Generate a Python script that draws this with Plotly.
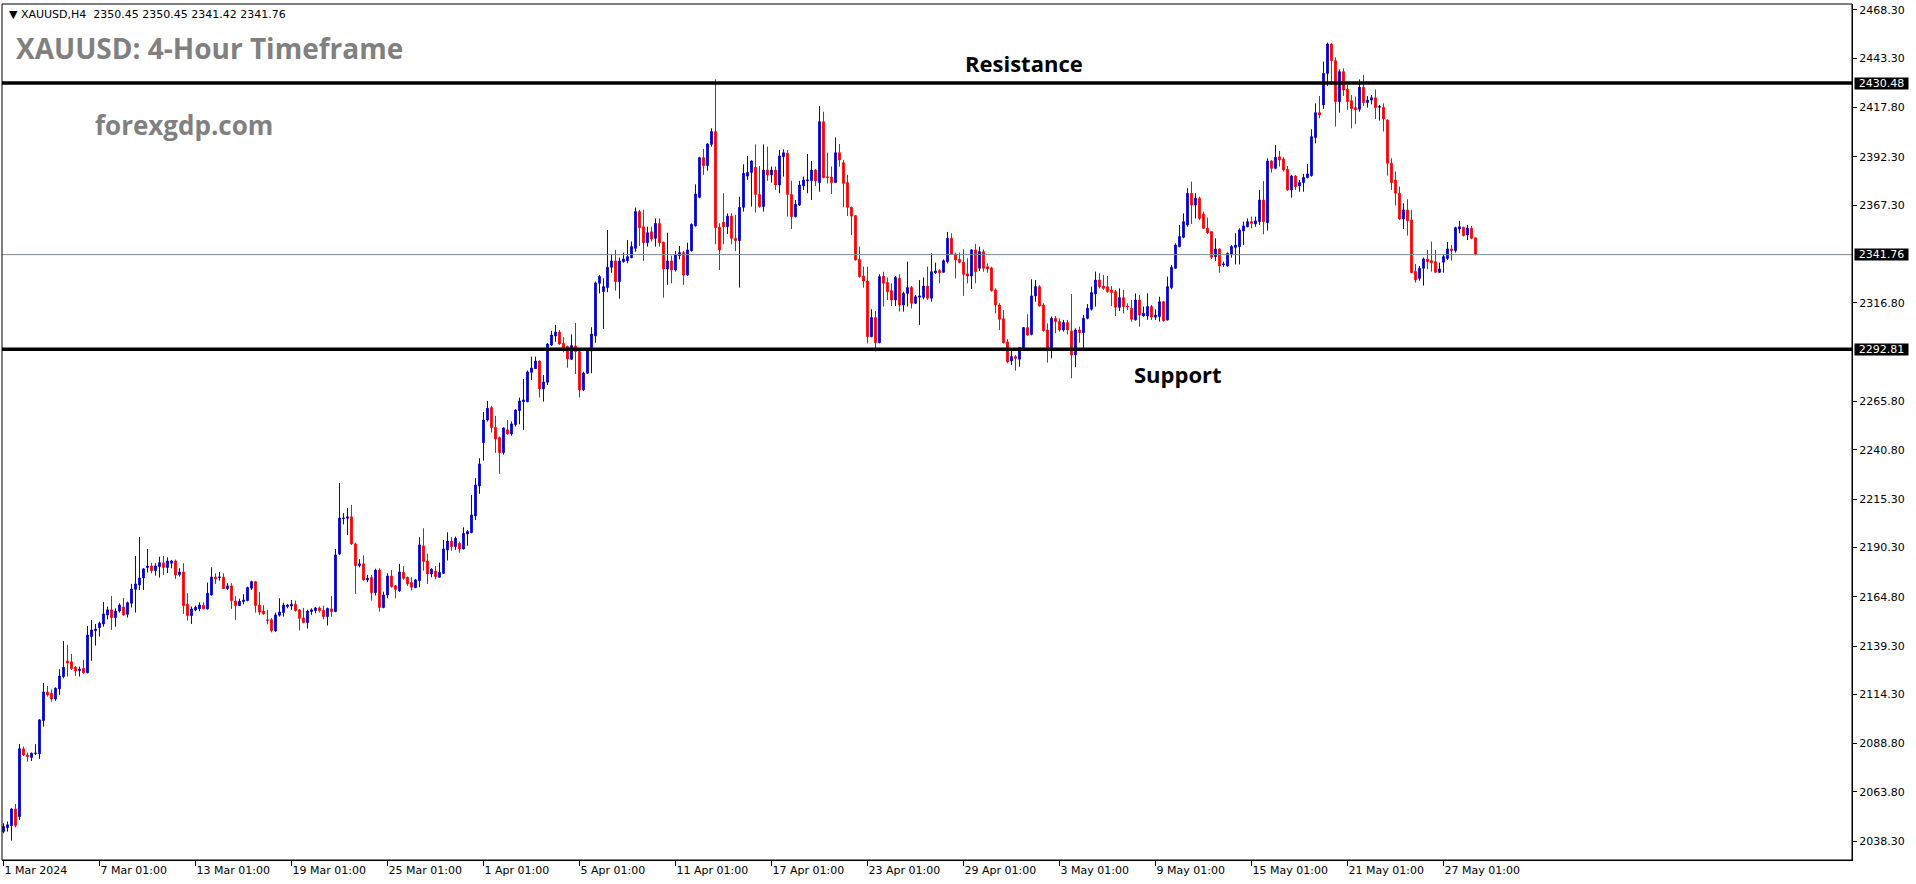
import plotly.graph_objects as go

# ---------------- data (XAUUSD H4) ----------------
opens = [
2043.3, 2045.4, 2046.4, 2055.0, 2051.1, 2086.1, 2082.9, 2081.6, 2083.6, 2083.5,
2100.7, 2115.5, 2114.9, 2111.9, 2117.1, 2123.5, 2131.6, 2131.1, 2128.3, 2126.6,
2127.8, 2125.5, 2144.2, 2147.3, 2148.8, 2150.7, 2155.4, 2158.0, 2154.0, 2157.4,
2159.5, 2155.7, 2161.4, 2168.6, 2170.9, 2174.5, 2179.9, 2180.7, 2178.3, 2180.4,
2182.3, 2179.9, 2182.1, 2183.3, 2176.2, 2177.6, 2160.9, 2155.0, 2157.9, 2158.6,
2160.4, 2158.5, 2165.7, 2175.0, 2174.7, 2174.9, 2169.0, 2170.4, 2162.6, 2160.2,
2162.3, 2162.8, 2169.2, 2172.6, 2160.5, 2157.4, 2152.9, 2152.9, 2147.1, 2155.2,
2156.6, 2159.7, 2160.0, 2160.9, 2158.0, 2153.8, 2151.4, 2157.1, 2157.6, 2159.0,
2157.8, 2154.5, 2158.5, 2157.1, 2186.9, 2205.2, 2205.4, 2206.1, 2192.1, 2180.9,
2181.8, 2173.5, 2174.7, 2166.9, 2178.6, 2159.2, 2165.7, 2175.5, 2170.5, 2167.8,
2177.4, 2174.8, 2172.1, 2169.5, 2173.1, 2191.1, 2183.3, 2176.6, 2178.1, 2174.9,
2176.9, 2189.0, 2193.6, 2190.7, 2192.4, 2189.5, 2197.3, 2198.0, 2206.6, 2222.1,
2244.5, 2256.2, 2262.6, 2252.3, 2247.1, 2239.3, 2251.1, 2249.0, 2253.8, 2261.1,
2265.7, 2265.7, 2280.9, 2282.8, 2286.7, 2272.3, 2275.7, 2295.0, 2299.7, 2301.7,
2295.9, 2294.2, 2287.6, 2294.5, 2291.6, 2271.8, 2280.4, 2291.9, 2299.7, 2326.9,
2322.6, 2324.7, 2335.2, 2338.5, 2327.8, 2338.1, 2338.6, 2340.2, 2345.0, 2364.0,
2356.2, 2347.9, 2353.6, 2350.2, 2357.9, 2348.1, 2334.3, 2338.5, 2333.8, 2341.2,
2342.8, 2331.2, 2343.8, 2356.7, 2371.4, 2391.9, 2387.8, 2398.8, 2405.4, 2355.9,
2358.5, 2356.2, 2361.7, 2350.2, 2349.0, 2366.2, 2382.4, 2384.3, 2386.9, 2372.9,
2366.6, 2385.5, 2383.0, 2385.5, 2377.8, 2392.4, 2394.2, 2372.9, 2361.4, 2367.4,
2377.3, 2380.0, 2380.0, 2385.5, 2379.0, 2410.5, 2382.0, 2381.9, 2379.0, 2394.5,
2389.3, 2379.0, 2366.2, 2361.9, 2339.3, 2330.7, 2328.1, 2299.3, 2309.2, 2296.2,
2330.7, 2327.3, 2323.1, 2318.3, 2329.5, 2315.7, 2321.7, 2324.8, 2316.6, 2319.7,
2319.7, 2325.5, 2319.2, 2332.4, 2333.5, 2332.6, 2338.1, 2350.2, 2342.1, 2339.3,
2337.8, 2331.8, 2330.7, 2344.2, 2334.7, 2343.3, 2335.5, 2334.9, 2323.5, 2315.7,
2308.6, 2296.6, 2286.7, 2289.0, 2287.6, 2292.4, 2304.0, 2300.5, 2320.4, 2325.2,
2315.7, 2302.8, 2292.4, 2308.8, 2307.1, 2302.8, 2306.6, 2302.3, 2289.9, 2302.8,
2301.4, 2308.8, 2313.5, 2321.4, 2328.6, 2325.5, 2325.2, 2323.5, 2322.6, 2314.5,
2319.5, 2315.2, 2314.0, 2308.0, 2318.3, 2310.0, 2310.0, 2314.9, 2309.4, 2309.7,
2317.4, 2308.0, 2324.7, 2334.7, 2345.9, 2350.7, 2357.1, 2373.5, 2367.4, 2370.9,
2362.8, 2355.4, 2353.6, 2340.7, 2344.7, 2336.5, 2335.9, 2342.1, 2345.5, 2345.9,
2354.0, 2356.2, 2358.8, 2357.6, 2358.8, 2370.0, 2358.3, 2390.2, 2386.4, 2392.4,
2391.2, 2385.9, 2375.2, 2382.4, 2377.3, 2379.0, 2381.6, 2382.6, 2402.3, 2415.2,
2419.2, 2435.5, 2450.7, 2442.1, 2420.9, 2436.4, 2427.3, 2421.4, 2417.8, 2416.9,
2428.3, 2420.4, 2421.7, 2422.9, 2418.0, 2418.0, 2411.4, 2389.0, 2380.4, 2373.5,
2360.2, 2364.9, 2359.7, 2333.0, 2329.5, 2334.7, 2339.5, 2338.6, 2338.1, 2332.6,
2337.8, 2339.8, 2344.7, 2343.8, 2355.0, 2355.9, 2351.9, 2355.4, 2350.45,
]

highs = [
2047.6, 2048.5, 2055.4, 2057.6, 2088.6, 2087.3, 2084.2, 2084.2, 2088.5, 2101.4,
2120.2, 2118.6, 2116.9, 2117.9, 2127.3, 2141.9, 2139.9, 2135.2, 2129.0, 2128.6,
2132.1, 2149.7, 2152.8, 2150.7, 2151.9, 2162.1, 2159.7, 2165.2, 2158.8, 2161.4,
2164.2, 2162.3, 2171.4, 2185.9, 2195.7, 2179.5, 2189.5, 2182.3, 2182.1, 2185.5,
2185.9, 2185.2, 2183.8, 2184.0, 2179.5, 2182.1, 2166.6, 2159.7, 2160.2, 2161.9,
2161.9, 2172.1, 2180.0, 2176.9, 2177.6, 2176.9, 2171.8, 2171.8, 2165.0, 2163.8,
2166.1, 2170.0, 2173.1, 2173.0, 2167.3, 2160.4, 2158.0, 2153.8, 2156.6, 2164.0,
2161.7, 2161.1, 2163.1, 2162.8, 2158.3, 2159.0, 2158.1, 2158.8, 2159.5, 2159.8,
2160.2, 2159.2, 2165.2, 2189.5, 2223.6, 2208.0, 2210.7, 2212.3, 2192.8, 2184.2,
2186.2, 2176.1, 2176.1, 2179.3, 2179.5, 2167.4, 2176.9, 2178.6, 2170.7, 2181.8,
2180.7, 2175.2, 2174.9, 2174.0, 2195.6, 2200.2, 2187.0, 2179.5, 2180.7, 2182.4,
2194.2, 2198.1, 2195.6, 2195.9, 2193.3, 2200.7, 2199.3, 2217.4, 2226.1, 2236.4,
2260.4, 2266.1, 2263.5, 2258.3, 2247.6, 2252.4, 2256.2, 2255.4, 2261.8, 2267.8,
2277.4, 2281.8, 2289.0, 2289.0, 2287.0, 2279.5, 2295.9, 2302.3, 2305.4, 2302.8,
2299.0, 2294.7, 2300.5, 2306.4, 2291.9, 2281.2, 2292.4, 2304.2, 2327.8, 2331.2,
2329.5, 2354.5, 2342.1, 2344.2, 2340.2, 2342.8, 2349.3, 2348.5, 2366.1, 2364.9,
2364.9, 2356.2, 2356.2, 2360.5, 2360.5, 2348.5, 2353.1, 2341.2, 2343.6, 2346.2,
2343.6, 2347.9, 2357.9, 2378.1, 2392.4, 2396.4, 2399.3, 2407.1, 2432.4, 2358.0,
2373.5, 2363.1, 2363.1, 2362.3, 2371.7, 2388.5, 2392.8, 2390.5, 2398.8, 2387.6,
2398.8, 2397.6, 2387.3, 2387.3, 2395.9, 2396.2, 2395.9, 2379.9, 2370.0, 2379.9,
2382.1, 2393.8, 2390.2, 2386.0, 2418.6, 2415.7, 2394.5, 2387.3, 2402.4, 2399.0,
2390.7, 2383.0, 2366.6, 2362.2, 2345.9, 2335.5, 2335.5, 2313.5, 2312.6, 2331.6,
2332.9, 2329.9, 2326.9, 2330.7, 2331.6, 2322.6, 2338.1, 2325.5, 2320.9, 2328.6,
2329.9, 2335.5, 2342.4, 2337.6, 2334.2, 2339.3, 2353.5, 2352.8, 2342.8, 2342.8,
2344.5, 2339.9, 2344.5, 2347.3, 2345.9, 2344.5, 2337.2, 2335.5, 2324.3, 2316.6,
2313.1, 2298.0, 2292.8, 2289.8, 2293.8, 2304.2, 2310.9, 2329.0, 2328.6, 2326.0,
2316.6, 2306.2, 2309.7, 2310.0, 2308.8, 2308.0, 2308.0, 2321.4, 2303.6, 2304.5,
2310.5, 2316.2, 2325.2, 2333.0, 2332.1, 2331.2, 2330.7, 2325.5, 2323.5, 2324.3,
2323.5, 2316.6, 2318.3, 2321.7, 2320.9, 2314.9, 2321.7, 2315.7, 2313.5, 2320.0,
2317.8, 2330.4, 2336.4, 2347.6, 2357.1, 2363.1, 2376.1, 2379.5, 2373.5, 2371.7,
2364.0, 2360.9, 2353.8, 2350.2, 2345.0, 2338.1, 2342.8, 2346.7, 2352.8, 2355.4,
2358.8, 2360.5, 2361.4, 2361.4, 2375.2, 2379.8, 2391.6, 2390.7, 2398.5, 2395.4,
2392.1, 2387.6, 2383.0, 2383.0, 2380.4, 2383.5, 2388.6, 2406.6, 2420.0, 2423.8,
2441.6, 2451.4, 2451.1, 2443.8, 2437.6, 2438.1, 2429.5, 2424.3, 2423.5, 2432.4,
2434.7, 2423.8, 2424.3, 2427.2, 2419.2, 2420.0, 2411.7, 2391.6, 2384.7, 2376.9,
2368.3, 2370.4, 2364.9, 2336.9, 2335.9, 2340.2, 2344.2, 2348.5, 2344.2, 2337.6,
2342.1, 2348.3, 2346.7, 2356.2, 2359.2, 2356.2, 2357.1, 2356.6, 2350.45,
]

lows = [
2042.4, 2043.3, 2038.6, 2045.5, 2049.3, 2082.4, 2079.5, 2079.8, 2082.9, 2080.9,
2097.6, 2113.1, 2110.5, 2110.9, 2114.0, 2122.6, 2123.5, 2126.9, 2123.8, 2123.5,
2124.9, 2125.2, 2131.6, 2139.5, 2144.2, 2149.3, 2153.1, 2147.6, 2149.3, 2156.6,
2154.9, 2154.0, 2159.2, 2156.6, 2168.3, 2168.3, 2177.3, 2176.9, 2175.7, 2174.7,
2176.1, 2177.1, 2179.5, 2174.0, 2175.2, 2155.9, 2152.4, 2150.7, 2157.3, 2157.3,
2158.3, 2158.1, 2165.5, 2171.4, 2173.1, 2168.8, 2168.3, 2158.5, 2152.8, 2160.0,
2160.9, 2162.4, 2168.3, 2156.6, 2155.4, 2155.5, 2150.5, 2146.4, 2146.6, 2154.5,
2154.5, 2158.8, 2158.0, 2157.1, 2147.3, 2151.1, 2148.3, 2155.4, 2156.2, 2156.6,
2153.1, 2149.9, 2154.5, 2156.8, 2186.4, 2202.2, 2196.7, 2191.6, 2166.2, 2180.0,
2173.0, 2172.3, 2162.8, 2165.4, 2157.1, 2158.8, 2164.0, 2169.5, 2164.0, 2167.3,
2173.5, 2170.4, 2168.0, 2169.2, 2169.7, 2178.3, 2171.4, 2174.9, 2173.8, 2174.7,
2176.6, 2183.5, 2188.6, 2189.0, 2187.6, 2189.3, 2191.2, 2197.6, 2204.5, 2218.0,
2235.2, 2255.4, 2249.7, 2239.2, 2228.3, 2238.3, 2248.5, 2248.1, 2252.8, 2254.0,
2251.1, 2265.4, 2276.9, 2282.6, 2267.8, 2265.7, 2274.3, 2294.5, 2296.7, 2295.0,
2291.2, 2283.3, 2287.3, 2280.0, 2267.8, 2271.2, 2280.0, 2280.4, 2296.2, 2321.7,
2303.3, 2322.3, 2332.4, 2323.1, 2319.0, 2337.6, 2337.3, 2339.9, 2343.3, 2346.2,
2338.5, 2345.9, 2348.5, 2345.9, 2345.9, 2319.5, 2326.1, 2326.9, 2333.0, 2339.3,
2326.1, 2330.7, 2343.3, 2356.2, 2370.9, 2383.0, 2385.2, 2397.6, 2347.1, 2333.8,
2347.1, 2352.4, 2347.1, 2343.6, 2324.7, 2364.0, 2380.4, 2366.6, 2363.5, 2366.0,
2364.0, 2379.9, 2379.0, 2375.2, 2373.5, 2382.1, 2361.4, 2355.0, 2361.0, 2366.9,
2375.2, 2373.5, 2370.0, 2377.3, 2374.3, 2381.2, 2378.6, 2373.1, 2378.8, 2387.3,
2366.2, 2361.7, 2351.9, 2338.7, 2329.9, 2324.7, 2295.9, 2299.0, 2291.6, 2295.9,
2314.9, 2318.3, 2315.2, 2315.2, 2312.3, 2312.3, 2314.9, 2313.9, 2316.2, 2305.4,
2318.6, 2318.3, 2317.4, 2331.8, 2326.9, 2332.4, 2337.2, 2341.7, 2329.5, 2337.2,
2320.4, 2326.9, 2324.0, 2326.9, 2333.3, 2332.9, 2332.4, 2322.6, 2311.4, 2302.8,
2295.9, 2285.6, 2284.7, 2281.7, 2283.8, 2292.2, 2299.7, 2300.0, 2317.4, 2314.9,
2301.9, 2285.9, 2288.1, 2301.1, 2301.9, 2301.9, 2300.5, 2277.8, 2283.5, 2296.2,
2292.4, 2308.3, 2312.8, 2314.9, 2324.3, 2323.5, 2322.1, 2315.2, 2310.0, 2312.6,
2311.4, 2313.1, 2307.1, 2307.6, 2304.5, 2309.7, 2308.0, 2308.0, 2308.0, 2307.1,
2307.1, 2307.6, 2323.8, 2334.5, 2345.5, 2350.2, 2356.2, 2357.6, 2360.5, 2359.7,
2355.0, 2352.4, 2339.5, 2338.5, 2332.4, 2335.5, 2335.5, 2340.2, 2336.7, 2336.7,
2346.7, 2355.9, 2355.4, 2356.2, 2357.1, 2352.3, 2354.2, 2384.2, 2385.9, 2387.3,
2384.7, 2374.8, 2371.2, 2375.2, 2374.3, 2374.3, 2381.2, 2382.1, 2399.3, 2412.3,
2417.1, 2429.0, 2429.5, 2408.0, 2415.2, 2423.8, 2416.6, 2407.1, 2409.2, 2415.7,
2418.6, 2417.8, 2419.5, 2411.9, 2411.1, 2405.4, 2382.6, 2375.2, 2367.1, 2359.7,
2355.0, 2351.6, 2332.2, 2327.3, 2328.3, 2325.7, 2334.2, 2333.0, 2332.4, 2332.2,
2332.4, 2339.0, 2338.6, 2342.8, 2352.8, 2351.1, 2349.3, 2349.7, 2341.42,
]

closes = [
2045.9, 2046.8, 2055.0, 2046.4, 2086.1, 2082.9, 2082.1, 2083.8, 2083.9, 2101.1,
2115.5, 2114.0, 2111.9, 2117.4, 2123.8, 2128.3, 2130.5, 2127.6, 2126.4, 2127.4,
2125.5, 2145.0, 2147.6, 2148.1, 2151.1, 2155.9, 2158.0, 2154.0, 2157.4, 2160.5,
2155.4, 2161.7, 2168.8, 2171.4, 2174.5, 2179.2, 2180.7, 2178.3, 2180.7, 2182.4,
2179.9, 2183.3, 2183.3, 2176.1, 2177.6, 2160.2, 2155.0, 2158.5, 2159.3, 2160.5,
2158.6, 2166.6, 2175.0, 2174.0, 2175.0, 2169.0, 2170.4, 2162.8, 2160.2, 2162.4,
2163.1, 2169.5, 2172.6, 2160.2, 2156.8, 2155.9, 2152.6, 2147.3, 2155.4, 2156.9,
2160.5, 2160.5, 2160.9, 2157.6, 2153.6, 2151.4, 2157.4, 2158.0, 2159.0, 2157.6,
2154.5, 2158.7, 2157.1, 2186.4, 2205.5, 2205.5, 2206.1, 2192.1, 2180.9, 2181.8,
2173.5, 2174.3, 2166.9, 2178.6, 2159.2, 2165.7, 2175.5, 2170.0, 2168.6, 2177.6,
2174.3, 2171.4, 2169.7, 2173.5, 2191.6, 2183.0, 2176.6, 2179.0, 2175.2, 2177.4,
2189.5, 2193.6, 2190.7, 2195.0, 2189.5, 2197.6, 2198.5, 2207.1, 2222.6, 2233.5,
2256.2, 2262.3, 2252.3, 2246.4, 2239.3, 2252.1, 2249.0, 2254.2, 2261.4, 2266.1,
2266.6, 2281.1, 2283.1, 2286.7, 2272.3, 2275.9, 2295.5, 2300.2, 2301.7, 2295.5,
2293.3, 2287.8, 2294.7, 2291.6, 2271.8, 2280.5, 2291.9, 2300.7, 2327.1, 2330.4,
2325.2, 2335.2, 2338.5, 2327.8, 2338.5, 2339.5, 2340.7, 2345.9, 2364.0, 2355.7,
2348.0, 2353.1, 2349.8, 2357.9, 2347.9, 2334.3, 2338.5, 2333.8, 2341.6, 2342.8,
2331.2, 2344.2, 2357.4, 2373.1, 2391.9, 2387.8, 2399.0, 2405.4, 2355.7, 2344.2,
2356.2, 2361.7, 2350.2, 2349.0, 2366.2, 2383.8, 2384.3, 2390.2, 2372.9, 2366.6,
2385.5, 2383.0, 2385.5, 2377.8, 2392.8, 2394.5, 2372.9, 2361.4, 2367.8, 2377.8,
2380.4, 2380.4, 2385.5, 2379.9, 2410.5, 2381.6, 2381.6, 2379.0, 2394.5, 2390.7,
2378.6, 2366.2, 2361.7, 2339.0, 2330.4, 2328.1, 2299.3, 2309.2, 2296.2, 2330.4,
2326.9, 2322.6, 2318.3, 2329.9, 2315.7, 2321.7, 2324.7, 2316.6, 2320.0, 2320.4,
2325.5, 2319.2, 2332.9, 2333.3, 2332.4, 2338.6, 2350.2, 2341.9, 2339.0, 2337.8,
2331.6, 2330.7, 2344.2, 2332.9, 2343.3, 2334.7, 2334.3, 2323.1, 2315.7, 2308.3,
2296.2, 2286.4, 2289.0, 2288.1, 2293.6, 2304.0, 2300.2, 2320.4, 2325.2, 2315.2,
2302.4, 2292.1, 2308.8, 2307.1, 2302.8, 2306.6, 2302.8, 2289.8, 2302.8, 2301.4,
2308.8, 2314.0, 2322.1, 2328.6, 2325.2, 2324.3, 2322.6, 2322.1, 2314.5, 2319.5,
2314.9, 2314.9, 2308.3, 2318.3, 2310.5, 2311.4, 2314.9, 2309.4, 2310.5, 2317.4,
2307.6, 2325.2, 2335.2, 2346.7, 2351.1, 2358.8, 2373.5, 2367.4, 2370.9, 2360.5,
2355.4, 2353.1, 2340.4, 2344.7, 2335.9, 2336.9, 2342.4, 2345.9, 2346.7, 2354.5,
2356.6, 2358.8, 2357.9, 2359.2, 2370.0, 2358.8, 2390.2, 2386.4, 2392.1, 2390.7,
2385.5, 2375.2, 2382.4, 2376.9, 2379.0, 2381.7, 2383.5, 2402.8, 2415.2, 2414.0,
2435.5, 2450.7, 2442.1, 2420.9, 2436.4, 2426.9, 2420.9, 2417.3, 2416.6, 2428.3,
2420.4, 2421.7, 2422.9, 2417.8, 2418.3, 2411.9, 2389.0, 2379.0, 2373.5, 2360.2,
2364.9, 2359.3, 2332.4, 2328.6, 2334.7, 2339.5, 2338.1, 2337.6, 2332.6, 2334.3,
2340.7, 2344.7, 2343.8, 2355.7, 2356.2, 2351.6, 2355.4, 2350.2, 2341.76,
]

date_labels = ["1 Mar 2024", "7 Mar 01:00", "13 Mar 01:00", "19 Mar 01:00",
               "25 Mar 01:00", "1 Apr 01:00", "5 Apr 01:00", "11 Apr 01:00",
               "17 Apr 01:00", "23 Apr 01:00", "29 Apr 01:00", "3 May 01:00",
               "9 May 01:00", "15 May 01:00", "21 May 01:00", "27 May 01:00"]
bars_per_label = 24

price_ticks = [2038.30, 2063.80, 2088.80, 2114.30, 2139.30, 2164.80, 2190.30,
               2215.30, 2240.80, 2265.80, 2316.80, 2367.30, 2392.30, 2417.80,
               2443.30, 2468.30]

resistance = 2430.48
support = 2292.81
last_price = 2341.76
header_text = "XAUUSD,H4  2350.45 2350.45 2341.42 2341.76"

# ---------------- figure ----------------
BLUE = "#0000D2"
RED = "#FF0000"
AXIS_FONT = dict(family="DejaVu Sans", size=11, color="black")

n = len(closes)
xs = list(range(n))

fig = go.Figure(go.Candlestick(
    x=xs, open=opens, high=highs, low=lows, close=closes,
    increasing=dict(line=dict(color=BLUE, width=1), fillcolor=BLUE),
    decreasing=dict(line=dict(color=RED, width=1), fillcolor=RED),
    whiskerwidth=0, hoverinfo="skip", showlegend=False,
))

# horizontal levels
for lvl, col, w in [(resistance, "black", 3.5), (support, "black", 3.5),
                    (last_price, "#778899", 1)]:
    fig.add_shape(type="line", xref="paper", x0=0, x1=1, yref="y",
                  y0=lvl, y1=lvl, line=dict(color=col, width=w), layer="above")

# frame around chart
fig.add_shape(type="rect", xref="paper", yref="paper", x0=0, x1=1, y0=0, y1=1,
              line=dict(color="black", width=1), layer="above")

# highlighted price labels on the right axis
for lvl in [resistance, support, last_price]:
    fig.add_annotation(x=1, xref="paper", xanchor="left", xshift=2,
                       y=lvl, yref="y", yanchor="middle",
                       text=f"{lvl:.2f}", showarrow=False,
                       font=dict(family="DejaVu Sans", size=11, color="white"),
                       bgcolor="black", width=53, height=11, borderpad=0)

# texts
fig.add_annotation(x=0, xref="paper", y=1, yref="paper", xanchor="left",
                   yanchor="top", xshift=5, yshift=-2,
                   text="\u25BC " + header_text.replace("  ", "\u00a0\u00a0"),
                   showarrow=False,
                   font=dict(family="DejaVu Sans", size=11, color="black"))
fig.add_annotation(x=(14 - 2) / 1850, xref="paper", y=(860 - 48) / 856, yref="paper",
                   xanchor="left", yanchor="middle",
                   text="<b>XAUUSD: 4-Hour Timeframe</b>", showarrow=False,
                   font=dict(family="Open Sans", size=28, color="#808080"))
fig.add_annotation(x=(93 - 2) / 1850, xref="paper", y=(860 - 125) / 856, yref="paper",
                   xanchor="left", yanchor="middle",
                   text="<b>forexgdp.com</b>", showarrow=False,
                   font=dict(family="Open Sans", size=26, color="#808080"))
fig.add_annotation(x=(1024 - 2) / 1850, xref="paper", y=(860 - 63) / 856, yref="paper",
                   xanchor="center", yanchor="middle",
                   text="<b>Resistance</b>", showarrow=False,
                   font=dict(family="Open Sans", size=22, color="black"))
fig.add_annotation(x=(1178 - 2) / 1850, xref="paper", y=(860 - 374) / 856, yref="paper",
                   xanchor="center", yanchor="middle",
                   text="<b>Support</b>", showarrow=False,
                   font=dict(family="Open Sans", size=22, color="black"))

fig.update_layout(
    width=1916, height=884,
    margin=dict(l=2, r=64, t=4, b=24),
    paper_bgcolor="white", plot_bgcolor="white",
    showlegend=False,
    xaxis=dict(
        range=[-0.375, 462.125], rangeslider=dict(visible=False),
        showgrid=False, zeroline=False,
        tickmode="array",
        tickvals=[k * bars_per_label for k in range(len(date_labels))],
        ticktext=date_labels,
        ticks="outside", ticklen=5, tickcolor="black", tickwidth=1,
        ticklabelposition="outside right",
        showline=True, linecolor="black", linewidth=1,
        tickfont=AXIS_FONT, fixedrange=True,
    ),
    yaxis=dict(
        side="right", range=[2028.6, 2471.4],
        showgrid=False, zeroline=False,
        tickmode="array", tickvals=price_ticks,
        ticktext=[f"{v:.2f}" for v in price_ticks],
        ticks="outside", ticklen=4, tickcolor="black", tickwidth=1,
        showline=True, linecolor="black", linewidth=1,
        tickfont=AXIS_FONT, fixedrange=True,
    ),
    boxgap=0.4,
)

fig.write_html(
    "out.html",
    config={"displayModeBar": False},
    post_script="document.body.style.margin='0';document.body.style.overflow='hidden';",
)
